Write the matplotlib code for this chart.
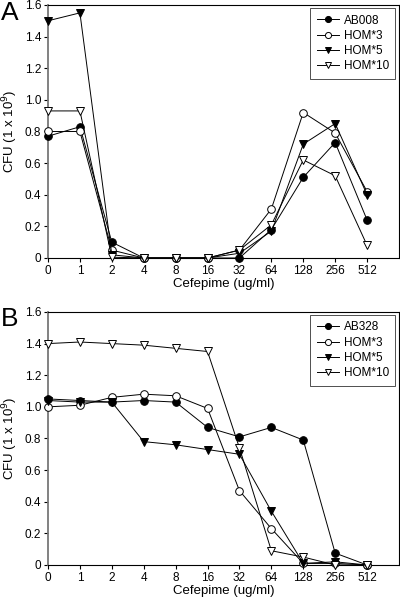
import numpy as np
import matplotlib
matplotlib.use('Agg')
import matplotlib.pyplot as plt

plt.rcParams['font.family'] = ['Liberation Sans', 'DejaVu Sans']
plt.rcParams['font.size'] = 9

# 数据
doses = ['0', '1', '2', '4', '8', '16', '32', '64', '128', '256', '512']

# panel A
a_names = ['AB008', 'HOM*3', 'HOM*5', 'HOM*10']
a_ab008 = [0.77, 0.83, 0.10, 0.0, 0.0, 0.0, 0.0, 0.18, 0.51, 0.73, 0.24]
a_hom3 = [0.80, 0.80, 0.05, 0.0, 0.0, 0.0, 0.05, 0.31, 0.92, 0.79, 0.42]
a_hom5 = [1.50, 1.55, 0.02, 0.0, 0.0, 0.0, 0.03, 0.17, 0.72, 0.85, 0.40]
a_hom10 = [0.93, 0.93, 0.005, 0.0, 0.0, 0.0, 0.05, 0.21, 0.62, 0.52, 0.08]

# panel B
b_names = ['AB328', 'HOM*3', 'HOM*5', 'HOM*10']
b_ab328 = [1.05, 1.04, 1.03, 1.04, 1.03, 0.87, 0.81, 0.87, 0.79, 0.075, 0.0]
b_hom3 = [1.00, 1.01, 1.06, 1.08, 1.07, 0.99, 0.47, 0.23, 0.01, 0.01, 0.0]
b_hom5 = [1.04, 1.03, 1.03, 0.78, 0.76, 0.73, 0.70, 0.34, 0.01, 0.02, 0.0]
b_hom10 = [1.40, 1.41, 1.40, 1.39, 1.37, 1.35, 0.74, 0.09, 0.05, 0.0, 0.0]

styles = [dict(marker='o', markerfacecolor='black'),
          dict(marker='o', markerfacecolor='white'),
          dict(marker='v', markerfacecolor='black'),
          dict(marker='v', markerfacecolor='white')]

fig = plt.figure(figsize=(4.0, 5.99), dpi=100)
ax_a = fig.add_axes([0.12, 0.5693, 0.8775, 0.4224])
ax_b = fig.add_axes([0.12, 0.0568, 0.8775, 0.4224])

x = np.arange(len(doses))


def draw(ax, names, series):
    for name, ys, st in zip(names, series, styles):
        ax.plot(x, ys, color='black', linewidth=0.7, markersize=5.5,
                markeredgecolor='black', markeredgewidth=0.7, label=name,
                clip_on=False, zorder=3, **st)
    ax.set_xlim(0, 11)
    ax.set_ylim(0, 1.6)
    ax.set_xticks(x)
    ax.set_xticklabels(doses)
    ax.set_yticks([0, 0.2, 0.4, 0.6, 0.8, 1.0, 1.2, 1.4, 1.6])
    ax.set_yticklabels(['0', '0.2', '0.4', '0.6', '0.8', '1.0', '1.2', '1.4', '1.6'])
    ax.tick_params(direction='out', length=3, width=0.8, labelsize=8.5, pad=2)
    for s in ax.spines.values():
        s.set_linewidth(0.8)
    ax.spines['left'].set_color('#777777')
    ax.spines['left'].set_linewidth(1.3)
    ax.set_xlabel('Cefepime (ug/ml)', fontsize=9.5, labelpad=1)
    ax.set_ylabel('CFU (1 x 10$^9$)', fontsize=9.5, labelpad=3)
    leg = ax.legend(loc='upper right', fontsize=8.5, frameon=True, fancybox=False,
                    edgecolor='black', handlelength=1.9, handletextpad=0.4,
                    borderpad=0.55, labelspacing=0.28, markerscale=0.8,
                    borderaxespad=0, bbox_to_anchor=(0.99, 0.988))
    leg.get_frame().set_linewidth(0.6)


draw(ax_a, a_names, [a_ab008, a_hom3, a_hom5, a_hom10])
draw(ax_b, b_names, [b_ab328, b_hom3, b_hom5, b_hom10])

# 面板字母
fig.text(0.002, 0.998, 'A', fontsize=19, ha='left', va='top')
fig.text(0.002, 0.487, 'B', fontsize=19, ha='left', va='top')

plt.savefig('out.png', dpi=100)
